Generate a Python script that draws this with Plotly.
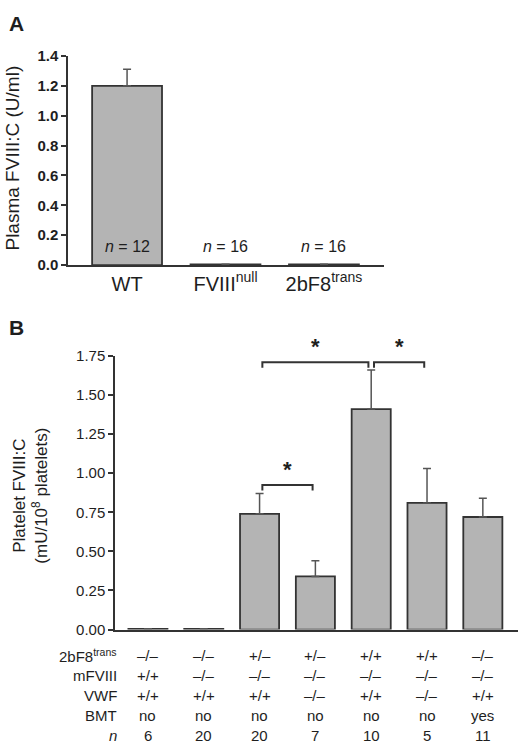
import plotly.graph_objects as go

# Panel A: plasma FVIII:C
a_groups = ["WT", "FVIII<sup>null</sup>", "2bF8<sup>trans</sup>"]
a_means = [1.20, 0.005, 0.005]
a_err = [0.11, 0.0, 0.0]
a_n = [12, 16, 16]

# Panel B: platelet FVIII:C
b_means = [0.005, 0.005, 0.74, 0.34, 1.41, 0.81, 0.72]
b_err = [0.0, 0.0, 0.13, 0.10, 0.25, 0.22, 0.12]
row_names = ["2bF8<sup>trans</sup>", "mFVIII", "VWF", "BMT", "<i>n</i>"]
row_2bf8 = ["\u2013/\u2013", "\u2013/\u2013", "+/\u2013", "+/\u2013", "+/+", "+/+", "\u2013/\u2013"]
row_mf8 = ["+/+", "\u2013/\u2013", "\u2013/\u2013", "\u2013/\u2013", "\u2013/\u2013", "\u2013/\u2013", "\u2013/\u2013"]
row_vwf = ["+/+", "+/+", "+/+", "\u2013/\u2013", "+/+", "\u2013/\u2013", "+/+"]
row_bmt = ["no", "no", "no", "no", "no", "no", "yes"]
row_n = ["6", "20", "20", "7", "10", "5", "11"]

# significance brackets: (left bar, right bar, height)
brackets = [(2, 4, 1.71), (4, 5, 1.71), (2, 3, 0.925)]

W, H = 520, 748
FONT = "Liberation Sans, Arial, sans-serif"
BAR_FILL = "#b4b4b4"
BAR_LINE = "#333333"
TXT = "#1e1e1e"

def px_x(p):
    return p / W

def px_y(p):
    return 1 - p / H

def label(x, y, text, size, xref="paper", yref="paper", **kw):
    d = dict(x=x, y=y, xref=xref, yref=yref, text=text, showarrow=False,
             xanchor="center", yanchor="middle",
             font=dict(size=size, color=TXT, family=FONT))
    d.update(kw)
    return d

fig = go.Figure()

fig.add_trace(go.Bar(
    x=list(range(len(a_groups))), y=a_means, width=0.71,
    marker=dict(color=BAR_FILL, line=dict(color=BAR_LINE, width=1.8)),
    error_y=dict(type="data", array=a_err, arrayminus=[0] * len(a_err),
                 color="#555555", thickness=1.5, width=4),
    xaxis="x", yaxis="y", showlegend=False))

b_x = list(range(len(b_means)))
fig.add_trace(go.Bar(
    x=b_x, y=b_means, width=0.7,
    marker=dict(color=BAR_FILL, line=dict(color=BAR_LINE, width=1.8)),
    error_y=dict(type="data", array=b_err, arrayminus=[0] * len(b_err),
                 color="#555555", thickness=1.5, width=4),
    xaxis="x2", yaxis="y2", showlegend=False))

annotations = []
shapes = []

# n labels in panel A
for i, n in enumerate(a_n):
    annotations.append(label(i, 0.124, f"<i>n</i> = {n}", 16, xref="x", yref="y"))

# brackets + stars in panel B
inset = 0.05
for left, right, h in brackets:
    leg = 0.035
    x0, x1 = left + inset, right - inset
    shapes.append(dict(type="path", xref="x2", yref="y2",
                       path=f"M {x0} {h - leg} L {x0} {h} L {x1} {h} L {x1} {h - leg}",
                       line=dict(color="#333", width=2)))
    annotations.append(label((left + right) / 2, h + 0.005, "<b>*</b>", 22,
                             xref="x2", yref="y2", yanchor="bottom"))

# genotype table under panel B
rows = [row_2bf8, row_mf8, row_vwf, row_bmt, row_n]
row_y = [662, 682, 702, 723, 743]
for name, vals, yp in zip(row_names, rows, row_y):
    annotations.append(label(px_x(119), px_y(yp), name, 15, xanchor="right"))
    for i, v in enumerate(vals):
        annotations.append(label(i, px_y(yp), v, 15, xref="x2"))

# axis titles and panel letters
annotations += [
    label(px_x(13), px_y(153), "Plasma FVIII:C (U/ml)", 19, textangle=-90),
    label(px_x(31), px_y(498), "Platelet FVIII:C<br>(mU/10<sup>8</sup> platelets)", 17,
          textangle=-90),
    label(px_x(16), px_y(15), "<b>A</b>", 21),
    label(px_x(16), px_y(326), "<b>B</b>", 21),
]

axis_common = dict(showgrid=False, zeroline=False, showline=True,
                   linecolor="#333", linewidth=1.5)

fig.update_layout(
    width=W, height=H, margin=dict(l=0, r=0, t=0, b=0),
    paper_bgcolor="white", plot_bgcolor="white",
    font=dict(family=FONT, color=TXT),
    xaxis=dict(domain=[px_x(68), px_x(384)], range=[-0.6, 2.61],
               tickvals=list(range(len(a_groups))), ticktext=a_groups,
               ticks="", tickfont=dict(size=20, color=TXT), **axis_common),
    yaxis=dict(domain=[px_y(262), px_y(48)], range=[0, 1.4], dtick=0.2,
               tickformat=".1f", ticks="outside", ticklen=5, tickwidth=1.5,
               tickcolor="#333", tickfont=dict(size=15, color=TXT, weight="bold"),
               anchor="x", **axis_common),
    xaxis2=dict(domain=[px_x(115), px_x(518)], range=[-0.59, 6.63],
                showticklabels=False, ticks="", anchor="y2", **axis_common),
    yaxis2=dict(domain=[px_y(635), px_y(355)], range=[0, 1.75], dtick=0.25,
                tickformat=".2f", ticks="outside", ticklen=5, tickwidth=1.5,
                tickcolor="#333", tickfont=dict(size=15, color=TXT),
                anchor="x2", **axis_common),
    annotations=annotations, shapes=shapes,
)

fig.write_html("out.html", config={"displayModeBar": False},
               post_script="document.body.style.margin='0';")
